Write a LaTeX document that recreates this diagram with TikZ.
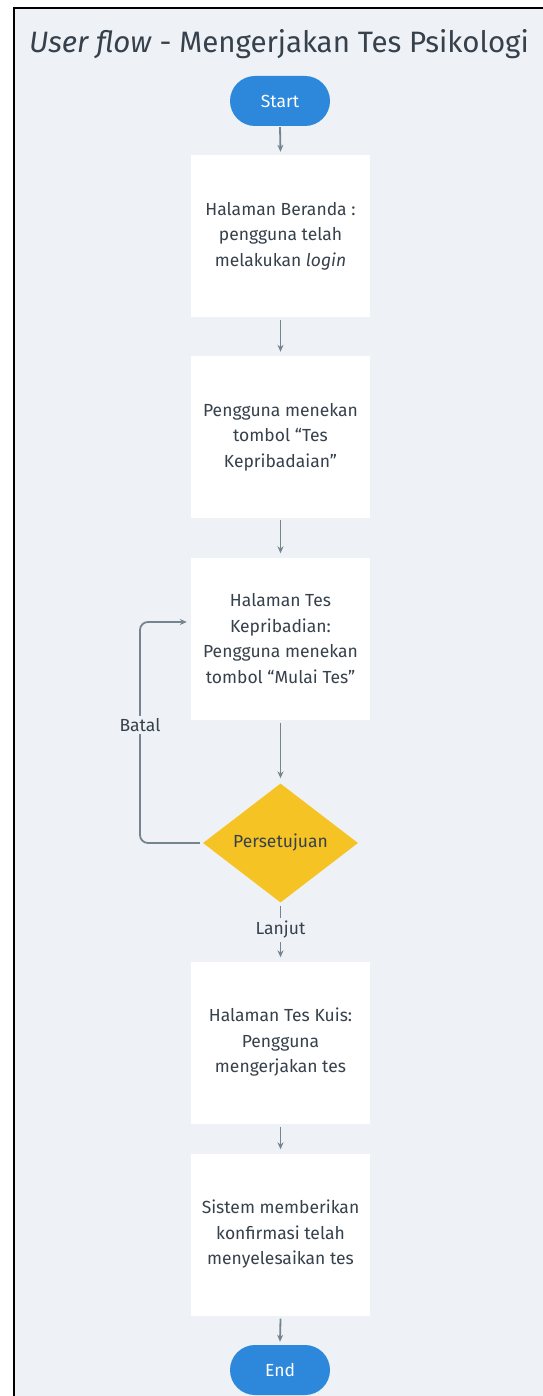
\documentclass[tikz,border=0pt]{standalone}
\usepackage{fontspec}
\setmainfont{Fira Sans}
\usetikzlibrary{shapes.geometric,shapes.misc,arrows.meta}
\definecolor{canvas}{HTML}{EEF2F6}
\definecolor{ink}{HTML}{36414C}
\definecolor{wire}{HTML}{76848F}
\definecolor{pillblue}{HTML}{2D87DA}
\definecolor{gold}{HTML}{F6C325}
\tikzset{
  pill/.style={rounded rectangle, fill=pillblue, text=white, minimum width=100pt,
    minimum height=50pt, inner sep=0pt, font=\fontsize{17.5}{20}\selectfont},
  stepbox/.style={rectangle, fill=white, minimum width=179pt, minimum height=162pt,
    inner sep=0pt, align=center, text=ink, font=\fontsize{17.5}{25.5}\selectfont},
  choice/.style={diamond, fill=gold, minimum width=155pt, minimum height=119pt,
    inner sep=0pt, text=ink, font=\fontsize{17.5}{20}\selectfont},
  flow/.style={draw=wire, line width=1.8pt, -{Stealth[length=7pt,width=6pt]}},
  tag/.style={fill=canvas, text=ink, inner sep=2pt, font=\fontsize{17.5}{20}\selectfont}
}
\begin{document}
\begin{tikzpicture}[x=1pt,y=-1pt]
\useasboundingbox (0,0) rectangle (542,1396);
\fill[white] (0,0) rectangle (542,1396);
\draw[line width=2pt, fill=canvas] (14,8) rectangle (570,1420);

\node[text=ink, font=\fontsize{29.5}{32}\selectfont, anchor=base] (title) at (279,53)
  {\textit{User flow} - Mengerjakan Tes Psikologi};

\node[pill] (start) at (280,101) {Start};
\node[stepbox] (s1) at (280.5,236) {Halaman Beranda :\\pengguna telah\\melakukan \textit{login}};
\node[stepbox] (s2) at (280.5,437) {Pengguna menekan\\tombol “Tes\\Kepribadaian”};
\node[stepbox] (s3) at (280.5,638.5) {Halaman Tes\\Kepribadian:\\Pengguna menekan\\tombol “Mulai Tes”};
\node[choice] (d) at (280.5,843) {Persetujuan};
\node[stepbox] (s4) at (280.5,1042.5) {Halaman Tes Kuis:\\Pengguna\\mengerjakan tes};
\node[stepbox] (s5) at (280.5,1234.5) {Sistem memberikan\\konfirmasi telah\\menyelesaikan tes};
\node[pill] (end) at (280,1370) {End};

\draw[flow] ([yshift=-1pt]start.south) -- ([yshift=3pt]s1.north);
\draw[flow] ([yshift=-3pt]s1.south) -- ([yshift=4pt]s2.north);
\draw[flow] ([yshift=-2pt]s2.south) -- ([yshift=4pt]s3.north);
\draw[flow] ([yshift=-3pt]s3.south) -- ([yshift=5pt]d.north);
\draw[flow, rounded corners=8pt] ([xshift=-3pt]d.west) -| (140,622) -- ([xshift=-4pt]s3.west |- 0,622);
\node[tag] (batal) at (140,725) {Batal};
\draw[draw=wire, line width=1.8pt] ([yshift=-3pt]d.south) -- (280.5,918);
\node[tag] (lanjut) at (280.5,930) {Lanjut};
\draw[flow] (280.5,942) -- ([yshift=4pt]s4.north);
\draw[flow] ([yshift=-3pt]s4.south) -- ([yshift=4pt]s5.north);
\draw[flow] ([yshift=-3pt]s5.south) -- ([yshift=3pt]end.north);
\end{tikzpicture}
\end{document}
